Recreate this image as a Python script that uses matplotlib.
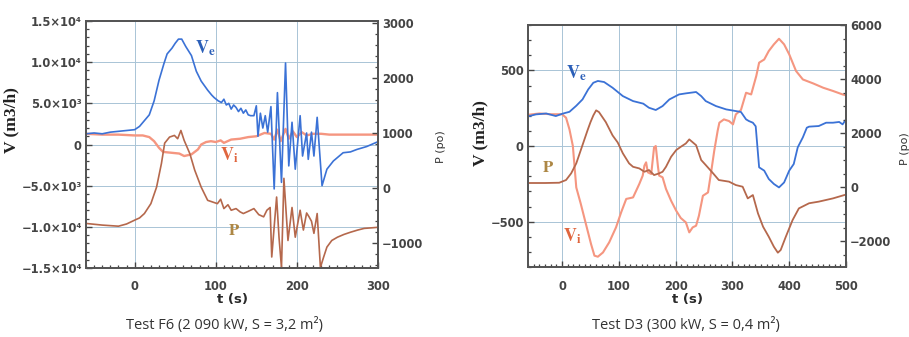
import matplotlib
matplotlib.use('Agg')
import matplotlib.pyplot as plt
from matplotlib.ticker import MultipleLocator

# ---- Test F6 (left panel) ----
f6_ve_t = [-60, -50, -40, -30, -20, -10, 0, 6, 12, 18, 24, 30, 36, 40, 46, 50, 54, 58,
           63, 70, 76, 82, 90, 95, 98, 103, 107, 110, 113, 116, 119, 122, 125, 128, 131,
           134, 137, 140, 143, 147, 150, 152, 155, 158, 161, 164, 168, 172, 176, 181,
           186, 190, 194, 198, 204, 207, 212, 214, 218, 221, 225, 231, 237, 245, 257,
           266, 274, 286, 299]
f6_ve_v = [1300, 1400, 1300, 1500, 1600, 1700, 1800, 2200, 2900, 3600, 5300, 7800, 9800,
           11000, 11700, 12300, 12800, 12800, 11900, 10800, 8900, 7700, 6600, 6000, 5700,
           5300, 5100, 5500, 4800, 5000, 4300, 4800, 4500, 4000, 4400, 3800, 4200, 3600,
           3500, 3500, 4700, 1000, 3800, 2000, 3500, 1500, 4600, -5400, 6300, -4600,
           9900, -2600, 2700, -3000, 3500, -1400, 1400, -1800, 1500, -1400, 3300, -5000,
           -3000, -2000, -1000, -900, -600, -250, 300]

f6_vi_t = [-60, -40, -20, 0, 10, 18, 24, 30, 35, 45, 55, 61, 70, 78, 82, 88, 94, 100,
           106, 110, 119, 130, 140, 150, 160, 168, 172, 176, 180, 186, 190, 195, 200, 206,
           212, 220, 230, 240, 260, 280, 300]
f6_vi_v = [1300, 1200, 1200, 1100, 1100, 900, 400, -400, -900, -1000, -1100, -1400, -1200,
           -600, 0, 300, 400, 300, 500, 200, 600, 700, 900, 1000, 1400, 1300, 600, 1800,
           400, 1900, 700, 1600, 900, 1500, 1100, 1300, 1300, 1200, 1200, 1200, 1200]

f6_p_t = [-60, -40, -20, -10, 0, 6, 12, 20, 27, 33, 37, 43, 49, 53, 57, 61, 68, 74, 82,
          90, 96, 102, 106, 110, 115, 119, 125, 130, 134, 140, 147, 153, 159, 163, 167,
          169, 172, 175, 178, 181, 184, 189, 194, 198, 204, 208, 212, 215, 218, 221, 225,
          229, 233, 237, 243, 250, 258, 266, 275, 283, 292, 300]
f6_p_v = [-640, -670, -690, -650, -580, -540, -460, -280, 20, 450, 820, 930, 960, 900,
          1050, 870, 630, 330, 20, -220, -250, -280, -200, -370, -300, -400, -370, -430,
          -460, -420, -370, -480, -520, -400, -350, -1250, -700, -160, -900, -1440, 180,
          -950, -350, -890, -400, -760, -450, -520, -600, -820, -460, -1440, -1250,
          -1070, -950, -890, -840, -800, -760, -730, -720, -710]

f6_left_ticks = [-15000, -10000, -5000, 0, 5000, 10000, 15000]
f6_left_labels = ['\u22121.5\u00d710\u2074', '\u22121.0\u00d710\u2074', '\u22125.0\u00d710\u00b3',
                  '0', '5.0\u00d710\u00b3', '1.0\u00d710\u2074', '1.5\u00d710\u2074']
f6_right_ticks = [-1000, 0, 1000, 2000, 3000]

# ---- Test D3 (right panel) ----
d3_ve_t = [-63, -46, -28, -11, 2, 13, 25, 36, 46, 55, 63, 74, 89, 107, 125, 143, 153, 165,
           177, 189, 206, 218, 236, 245, 253, 271, 289, 306, 315, 324, 329, 336, 341, 347,
           356, 364, 373, 382, 391, 400, 408, 415, 424, 431, 435, 452, 465, 477, 488, 494,
           500]
d3_ve_v = [193, 209, 215, 198, 215, 226, 266, 308, 374, 418, 430, 423, 385, 330, 297, 280,
           253, 238, 264, 308, 341, 348, 357, 330, 297, 264, 242, 231, 225, 176, 165, 154,
           130, -141, -163, -218, -251, -274, -241, -163, -119, -9, 57, 121, 128, 132, 154,
           154, 159, 143, 176]

d3_vi_t = [-63, -40, -20, 0, 7, 13, 19, 25, 33, 42, 51, 57, 63, 72, 83, 95, 104, 113, 125,
           136, 142, 145, 148, 151, 157, 162, 165, 169, 171, 177, 183, 192, 201, 209, 218,
           224, 230, 236, 241, 248, 257, 262, 268, 274, 277, 285, 294, 301, 306, 315, 324,
           333, 342, 347, 356, 364, 373, 382, 391, 400, 412, 424, 442, 460, 477, 494, 500]
d3_vi_v = [205, 215, 210, 210, 187, 110, 0, -274, -383, -516, -648, -725, -732, -704, -637,
           -538, -439, -350, -340, -251, -196, -130, -108, -174, -185, -9, 0, -141, -196,
           -207, -284, -362, -428, -476, -505, -571, -538, -527, -461, -329, -307, -185,
           -31, 101, 154, 176, 165, 143, 209, 238, 352, 341, 463, 551, 572, 628, 672, 709,
           672, 606, 496, 440, 414, 385, 364, 341, 335]

d3_p_t = [-63, -30, -5, 7, 16, 25, 33, 39, 45, 50, 55, 60, 65, 77, 89, 98, 107, 118, 125,
          136, 145, 153, 162, 171, 177, 183, 192, 201, 209, 218, 224, 236, 245, 253, 266,
          276, 294, 306, 318, 327, 336, 345, 354, 364, 373, 380, 385, 394, 406, 417, 435,
          452, 477, 497, 500]
d3_p_v = [150, 150, 160, 260, 507, 877, 1370, 1740, 2110, 2400, 2650, 2840, 2775, 2405,
          1910, 1650, 1250, 877, 750, 690, 567, 630, 444, 507, 566, 750, 1120, 1370, 1490,
          1615, 1765, 1550, 1000, 815, 507, 260, 200, 74, 12, -420, -296, -975, -1470,
          -1840, -2210, -2430, -2330, -1840, -1220, -790, -600, -540, -420, -296, -280]

d3_left_ticks = [-500, 0, 500]
d3_right_ticks = [-2000, 0, 2000, 4000, 6000]

C_VE, C_VI, C_P = '#3b72d6', '#f59680', '#b5684c'
L_VE, L_VI, L_P = '#2b5fb8', '#e0663f', '#ad8745'
TICK_FONT = dict(family='DejaVu Sans', weight='bold', size=8.3, color='#2a2a2a')


def minus(v):
    return str(v).replace('-', '\u2212')


def style(ax, ax2, xmajor, ymin_step, y2min_step):
    ax.set_xticks(xmajor)
    ax.set_xticklabels([minus(v) for v in xmajor], fontdict=TICK_FONT)
    ax.xaxis.set_minor_locator(MultipleLocator(10))
    ax.yaxis.set_minor_locator(MultipleLocator(ymin_step))
    ax2.yaxis.set_minor_locator(MultipleLocator(y2min_step))
    for a in (ax, ax2):
        a.tick_params(which='both', direction='in', top=False, colors='#444', pad=3)
        a.tick_params(which='major', length=4, width=1)
        a.tick_params(which='minor', length=2.5, width=0.9)
        for s in a.spines.values():
            s.set_color('#555')
            s.set_linewidth(1.3)
    ax.tick_params(right=False)
    ax.tick_params(axis='x', pad=9)
    ax.grid(True, which='major', color='#a9c4d6', lw=0.7)
    ax.set_xlabel('t (s)', family='DejaVu Sans', weight='bold', size=9.5,
                  color='#2a2a2a', labelpad=0)
    ax.set_ylabel('V (m3/h)', family='Liberation Serif', weight='bold', size=12.5,
                  color='#222')
    ax2.set_ylabel('P (po)', family='DejaVu Sans', size=8, color='#333', rotation=90)


def main():
    plt.rcParams['mathtext.fontset'] = 'stix'
    fig = plt.figure(figsize=(9.09, 3.37), dpi=100)

    # Left panel: Test F6
    ax = fig.add_axes([86 / 909, 1 - 268 / 337, 292 / 909, 247 / 337])
    ax2 = ax.twinx()
    ax.plot(f6_vi_t, f6_vi_v, color=C_VI, lw=1.7)
    ax.plot(f6_ve_t, f6_ve_v, color=C_VE, lw=1.2)
    ax2.plot(f6_p_t, f6_p_v, color=C_P, lw=1.2)
    ax.set_xlim(-60, 300)
    ax.set_ylim(-15000, 15000)
    ax2.set_ylim(-1450, 3040)
    ax.set_yticks(f6_left_ticks)
    ax.set_yticklabels(f6_left_labels, fontdict=TICK_FONT)
    ax2.set_yticks(f6_right_ticks)
    ax2.set_yticklabels([minus(v) for v in f6_right_ticks], fontdict=TICK_FONT)
    style(ax, ax2, [0, 100, 200, 300], 1000, 200)
    ax.yaxis.set_label_coords(-0.229, 0.6)
    ax2.yaxis.set_label_coords(1.199, 0.49)
    ax.text(0.41, 0.89, r'$\mathbf{V}_\mathbf{e}$', transform=ax.transAxes, color=L_VE,
            size=13, ha='center', va='center')
    ax.text(0.49, 0.457, r'$\mathbf{V}_\mathbf{i}$', transform=ax.transAxes, color=L_VI,
            size=13, ha='center', va='center')
    ax.text(0.507, 0.154, r'$\mathbf{P}$', transform=ax.transAxes, color=L_P,
            size=12, ha='center', va='center')

    # Right panel: Test D3
    bx = fig.add_axes([528 / 909, 1 - 267 / 337, 318 / 909, 242 / 337])
    bx2 = bx.twinx()
    bx.plot(d3_vi_t, d3_vi_v, color=C_VI, lw=1.5)
    bx.plot(d3_ve_t, d3_ve_v, color=C_VE, lw=1.3)
    bx2.plot(d3_p_t, d3_p_v, color=C_P, lw=1.3)
    bx.set_xlim(-60, 500)
    bx.set_ylim(-800, 800)
    bx2.set_ylim(-2960, 6000)
    bx.set_yticks(d3_left_ticks)
    bx.set_yticklabels([minus(v) for v in d3_left_ticks], fontdict=TICK_FONT)
    bx2.set_yticks(d3_right_ticks)
    bx2.set_yticklabels([minus(v) for v in d3_right_ticks], fontdict=TICK_FONT)
    style(bx, bx2, [0, 100, 200, 300, 400, 500], 100, 500)
    bx.yaxis.set_label_coords(-0.126, 0.554)
    bx2.yaxis.set_label_coords(1.17, 0.49)
    bx.text(0.151, 0.80, r'$\mathbf{V}_\mathbf{e}$', transform=bx.transAxes, color=L_VE,
            size=13, ha='center', va='center')
    bx.text(0.063, 0.413, r'$\mathbf{P}$', transform=bx.transAxes, color=L_P,
            size=12, ha='center', va='center')
    bx.text(0.138, 0.128, r'$\mathbf{V}_\mathbf{i}$', transform=bx.transAxes, color=L_VI,
            size=13, ha='center', va='center')

    # Captions
    fig.text(224 / 909, 1 - 325 / 337, 'Test F6 (2 090 kW, S = 3,2 m\u00b2)',
             family='Open Sans', size=10.5, color='#333', ha='center', va='center')
    fig.text(686 / 909, 1 - 325 / 337, 'Test D3 (300 kW, S = 0,4 m\u00b2)',
             family='Open Sans', size=10.5, color='#333', ha='center', va='center')

    fig.savefig('out.png', dpi=100)


if __name__ == '__main__':
    main()
